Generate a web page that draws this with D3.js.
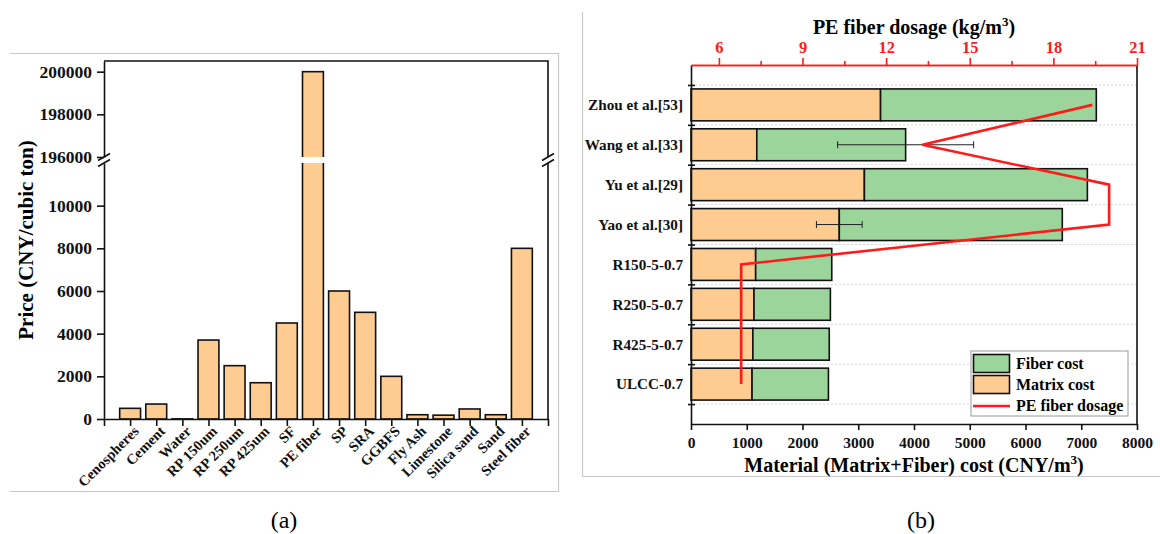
<!DOCTYPE html>
<html>
<head>
<meta charset="utf-8">
<script src="https://cdn.jsdelivr.net/npm/d3@7"></script>
<style>
  body { margin: 0; background: #fff; }
  svg { display: block; font-family: "Liberation Serif", "Times New Roman", serif; }
</style>
</head>
<body>
<svg id="chart" width="1160" height="534"></svg>
<script>
// ---------- (a) raw material prices ----------
const priceCategories = ["Cenospheres", "Cement", "Water", "RP 150um", "RP 250um", "RP 425um", "SF",
  "PE fiber", "SP", "SRA", "GGBFS", "Fly Ash", "Limestone", "Silica sand", "Sand", "Steel fiber"];
const priceValues = [500, 700, 5, 3700, 2500, 1700, 4500, 200000, 6000, 5000, 2000, 200, 180, 470, 200, 8000];
const priceTicksLow = [0, 2000, 4000, 6000, 8000, 10000];
const priceTicksHigh = [196000, 198000, 200000];

// ---------- (b) material cost per mix ----------
const studies = ["Zhou et al.[53]", "Wang et al.[33]", "Yu et al.[29]", "Yao et al.[30]",
  "R150-5-0.7", "R250-5-0.7", "R425-5-0.7", "ULCC-0.7"];
const matrixCost = [3400, 1180, 3110, 2660, 1160, 1130, 1110, 1095];
const fiberCost = [3870, 2670, 4000, 4000, 1365, 1370, 1370, 1370];
const totalCostError = [0, 1220, 0, 0, 0, 0, 0, 0];
const matrixCostError = [0, 0, 0, 410, 0, 0, 0, 0];
const fiberDosage = [19.4, 13.3, 20, 20, 6.8, 6.8, 6.8, 6.8];
const costTicks = [0, 1000, 2000, 3000, 4000, 5000, 6000, 7000, 8000];
const dosageTicks = [6, 9, 12, 15, 18, 21];
const dosageMinorTicks = [7.5, 10.5, 13.5, 16.5, 19.5];

const ORANGE = "#FECC91";
const GREEN = "#9CD59B";
const RED = "#FF1A1A";
const FONT = '"Liberation Serif", "Times New Roman", serif';

const svg = d3.select("#chart");

// panel frames
svg.append("path").attr("d", "M10,53.5H558.5V491.5H10")
  .attr("fill", "none").attr("stroke", "#c8c8c8").attr("stroke-width", 1.2);
svg.append("path").attr("d", "M582.5,12V476.5H1160")
  .attr("fill", "none").attr("stroke", "#c8c8c8").attr("stroke-width", 1.2);

function styleAxis(g, size, color) {
  g.attr("font-family", FONT).attr("font-weight", "bold").attr("font-size", size);
  g.selectAll("path, line").attr("stroke", color).attr("stroke-width", 1.6);
  g.selectAll("text").attr("fill", color);
}

// ===================== (a) =====================
const aLeft = 104, aRight = 548, aBottom = 419, aTop = 61, breakHi = 157, breakLo = 163;
const xIdx = d3.scaleLinear([0, priceCategories.length + 1], [aLeft, aRight]);
const yLow = d3.scaleLinear([0, 12000], [aBottom, breakLo]);
const yHigh = d3.scaleLinear([196000, 200500], [breakHi, aTop]);
const barW = (xIdx(1) - xIdx(0)) * 0.8;

const defs = svg.append("defs");
defs.append("clipPath").attr("id", "clipLow").append("rect")
  .attr("x", aLeft).attr("y", breakLo).attr("width", aRight - aLeft).attr("height", aBottom - breakLo + 5);
defs.append("clipPath").attr("id", "clipHigh").append("rect")
  .attr("x", aLeft).attr("y", aTop - 5).attr("width", aRight - aLeft).attr("height", breakHi - aTop + 5);

const priceData = priceCategories.map((c, i) => ({ c, v: priceValues[i], i: i + 1 }));

svg.append("g").attr("clip-path", "url(#clipLow)")
  .selectAll("rect").data(priceData).join("rect")
  .attr("x", d => xIdx(d.i) - barW / 2)
  .attr("width", barW)
  .attr("y", d => yLow(d.v))
  .attr("height", d => aBottom - yLow(d.v))
  .attr("fill", ORANGE).attr("stroke", "#111").attr("stroke-width", 1.6);

svg.append("g").attr("clip-path", "url(#clipHigh)")
  .selectAll("rect").data(priceData.filter(d => d.v >= 196000)).join("rect")
  .attr("x", d => xIdx(d.i) - barW / 2)
  .attr("width", barW)
  .attr("y", d => yHigh(d.v))
  .attr("height", d => breakHi + 10 - yHigh(d.v))
  .attr("fill", ORANGE).attr("stroke", "#111").attr("stroke-width", 1.6);

// y axis, two segments
const gyLow = svg.append("g").attr("transform", `translate(${aLeft},0)`)
  .call(d3.axisLeft(yLow).tickValues(priceTicksLow).tickSize(7).tickSizeOuter(0).tickPadding(5).tickFormat(d3.format("d")));
styleAxis(gyLow, 17.5, "#111");
const gyHigh = svg.append("g").attr("transform", `translate(${aLeft},0)`)
  .call(d3.axisLeft(yHigh).tickValues(priceTicksHigh).tickSize(7).tickSizeOuter(0).tickPadding(5).tickFormat(d3.format("d")));
styleAxis(gyHigh, 17.5, "#111");

// right and top frame lines
svg.append("path").attr("d", `M${aLeft},${aTop}H${aRight}V${breakHi}`)
  .attr("fill", "none").attr("stroke", "#111").attr("stroke-width", 1.6);
svg.append("path").attr("d", `M${aRight},${breakLo}V${aBottom}`)
  .attr("fill", "none").attr("stroke", "#111").attr("stroke-width", 1.6);

// axis break marks
[aLeft, aRight].forEach(x => {
  [breakHi, breakLo].forEach(y => {
    svg.append("line")
      .attr("x1", x - 6).attr("y1", y + 3.5).attr("x2", x + 6).attr("y2", y - 3.5)
      .attr("stroke", "#111").attr("stroke-width", 1.6);
  });
});

// x axis with slanted category names
const gxA = svg.append("g").attr("transform", `translate(0,${aBottom})`)
  .call(d3.axisBottom(xIdx).tickValues(d3.range(0, priceCategories.length + 2)).tickSize(7).tickSizeOuter(0)
    .tickFormat(i => (i >= 1 && i <= priceCategories.length) ? priceCategories[i - 1] : ""));
styleAxis(gxA, 14.5, "#111");
gxA.selectAll(".tick text")
  .attr("text-anchor", "end")
  .attr("transform", "translate(4,8) rotate(-45)")
  .attr("x", 0).attr("y", 0).attr("dy", "0.5em");

svg.append("text")
  .attr("transform", `translate(33,240) rotate(-90)`)
  .attr("text-anchor", "middle")
  .attr("font-weight", "bold").attr("font-size", 21)
  .text("Price (CNY/cubic ton)");

svg.append("text").attr("x", 284).attr("y", 528)
  .attr("text-anchor", "middle").attr("font-size", 24).text("(a)");

// ===================== (b) =====================
const bLeft = 691, bRight = 1137, bTop = 65, bBottom = 424;
const xCost = d3.scaleLinear([0, 8000], [bLeft, bRight]);
const xDose = d3.scaleLinear([5, 21], [bLeft, bRight]);
const yCat = d3.scaleLinear([0, studies.length + 1], [bTop, bBottom]);
const barH = (yCat(1) - yCat(0)) * 0.8;
const catTicks = d3.range(0.5, studies.length + 1, 1);

// dotted grid
svg.append("g").selectAll("line").data(catTicks).join("line")
  .attr("x1", bLeft).attr("x2", bRight)
  .attr("y1", d => yCat(d)).attr("y2", d => yCat(d))
  .attr("stroke", "#d4d4d4").attr("stroke-width", 1).attr("stroke-dasharray", "2,2");

const costData = studies.map((s, i) => ({
  s, pos: i + 1, m: matrixCost[i], f: fiberCost[i],
  eT: totalCostError[i], eM: matrixCostError[i], dose: fiberDosage[i]
}));

const gBars = svg.append("g");
gBars.selectAll("rect.matrix").data(costData).join("rect").attr("class", "matrix")
  .attr("x", xCost(0)).attr("width", d => xCost(d.m) - xCost(0))
  .attr("y", d => yCat(d.pos) - barH / 2).attr("height", barH)
  .attr("fill", ORANGE).attr("stroke", "#111").attr("stroke-width", 1.6);
gBars.selectAll("rect.fiber").data(costData).join("rect").attr("class", "fiber")
  .attr("x", d => xCost(d.m)).attr("width", d => xCost(d.m + d.f) - xCost(d.m))
  .attr("y", d => yCat(d.pos) - barH / 2).attr("height", barH)
  .attr("fill", GREEN).attr("stroke", "#111").attr("stroke-width", 1.6);

// error bars
const errs = [];
costData.forEach(d => {
  if (d.eT) errs.push({ c: d.m + d.f, e: d.eT, pos: d.pos });
  if (d.eM) errs.push({ c: d.m, e: d.eM, pos: d.pos });
});
const gErr = svg.append("g").attr("stroke", "#222").attr("stroke-width", 1);
errs.forEach(e => {
  const y = yCat(e.pos);
  gErr.append("line").attr("x1", xCost(e.c - e.e)).attr("x2", xCost(e.c + e.e)).attr("y1", y).attr("y2", y);
  [e.c - e.e, e.c + e.e].forEach(v => {
    gErr.append("line").attr("x1", xCost(v)).attr("x2", xCost(v)).attr("y1", y - 3.5).attr("y2", y + 3.5);
  });
});

// dosage line
svg.append("path").datum(costData)
  .attr("d", d3.line().x(d => xDose(d.dose)).y(d => yCat(d.pos)))
  .attr("fill", "none").attr("stroke", RED).attr("stroke-width", 2.6).attr("stroke-linejoin", "miter");

// bottom axis
const gxB = svg.append("g").attr("transform", `translate(0,${bBottom})`)
  .call(d3.axisBottom(xCost).tickValues(costTicks).tickSize(6).tickSizeOuter(0).tickPadding(7).tickFormat(d3.format("d")));
styleAxis(gxB, 15.5, "#111");

// left axis (category)
const gyB = svg.append("g").attr("transform", `translate(${bLeft},0)`)
  .call(d3.axisLeft(yCat).tickValues(catTicks).tickSize(3).tickSizeOuter(0).tickFormat(""));
styleAxis(gyB, 15, "#111");
gyB.selectAll(".tick line").attr("x1", 4);
const gyLabels = svg.append("g").attr("transform", `translate(${bLeft},0)`)
  .call(d3.axisLeft(yCat).tickValues(d3.range(1, studies.length + 1)).tickSize(0).tickPadding(8)
    .tickFormat(i => studies[i - 1]));
gyLabels.select(".domain").remove();
styleAxis(gyLabels, 15.2, "#111");

// right frame
svg.append("line").attr("x1", bRight).attr("x2", bRight).attr("y1", bTop).attr("y2", bBottom)
  .attr("stroke", "#111").attr("stroke-width", 1.6);

// top axis (dosage)
const gxTminor = svg.append("g").attr("transform", `translate(0,${bTop})`)
  .call(d3.axisTop(xDose).tickValues(dosageMinorTicks).tickSize(4).tickSizeOuter(0).tickFormat(""));
styleAxis(gxTminor, 16, RED);
const gxT = svg.append("g").attr("transform", `translate(0,${bTop})`)
  .call(d3.axisTop(xDose).tickValues(dosageTicks).tickSize(7).tickSizeOuter(0).tickPadding(5).tickFormat(d3.format("d")));
styleAxis(gxT, 16.5, RED);

// titles
const titleTop = svg.append("text").attr("x", (bLeft + bRight) / 2).attr("y", 34)
  .attr("text-anchor", "middle").attr("font-weight", "bold").attr("font-size", 20);
titleTop.append("tspan").text("PE fiber dosage (kg/m");
titleTop.append("tspan").attr("font-size", 13).attr("dy", -8).text("3");
titleTop.append("tspan").attr("dy", 8).text(")");

const titleBot = svg.append("text").attr("x", (bLeft + bRight) / 2).attr("y", 472)
  .attr("text-anchor", "middle").attr("font-weight", "bold").attr("font-size", 20);
titleBot.append("tspan").text("Material (Matrix+Fiber) cost (CNY/m");
titleBot.append("tspan").attr("font-size", 13).attr("dy", -8).text("3");
titleBot.append("tspan").attr("dy", 8).text(")");

// legend
const lg = svg.append("g").attr("transform", "translate(971,351)");
lg.append("rect").attr("width", 157).attr("height", 65)
  .attr("fill", "#fff").attr("stroke", "#999").attr("stroke-width", 1);
const legendItems = [
  { label: "Fiber cost", type: "rect", color: GREEN },
  { label: "Matrix cost", type: "rect", color: ORANGE },
  { label: "PE fiber dosage", type: "line", color: RED }
];
legendItems.forEach((it, k) => {
  const cy = 12.5 + k * 21;
  if (it.type === "rect") {
    lg.append("rect").attr("x", 2.5).attr("y", cy - 9).attr("width", 36).attr("height", 18)
      .attr("fill", it.color).attr("stroke", "#111").attr("stroke-width", 1.6);
  } else {
    lg.append("line").attr("x1", 2).attr("x2", 39).attr("y1", cy + 0.5).attr("y2", cy + 0.5)
      .attr("stroke", it.color).attr("stroke-width", 2.6);
  }
  lg.append("text").attr("x", 45).attr("y", cy + 5.5)
    .attr("font-weight", "bold").attr("font-size", 16).text(it.label);
});

svg.append("text").attr("x", 921).attr("y", 528)
  .attr("text-anchor", "middle").attr("font-size", 24).text("(b)");
</script>
</body>
</html>
